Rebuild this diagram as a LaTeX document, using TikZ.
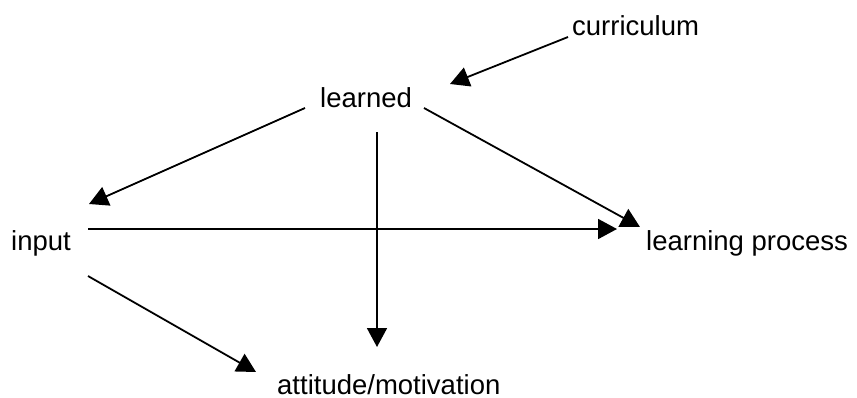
\documentclass[tikz,border=0pt]{standalone}
\usepackage{fontspec}
\setmainfont{Liberation Sans}
\usetikzlibrary{arrows.meta}
\begin{document}
\begin{tikzpicture}[x=1pt,y=-1pt,
  lbl/.style={anchor=base west,inner sep=0pt,font=\fontsize{27.5}{30}\selectfont},
  conn/.style={line width=1.8pt,-{Triangle[length=19pt,width=20pt]}}]
\useasboundingbox (0,0) rectangle (857,397);
\node[lbl] (curriculum) at (572,35) {curriculum};
\node[lbl] (learned) at (320,107) {learned};
\node[lbl] (input) at (11,250) {input};
\node[lbl] (lp) at (646,250) {learning process};
\node[lbl] (att) at (277,394) {attitude/motivation};
\coordinate (c1) at (568,37);
\coordinate (c2) at (450,84);
\coordinate (l1) at (305,108);
\coordinate (l2) at (89,204);
\coordinate (l3) at (377,132);
\coordinate (l4) at (377,347);
\coordinate (l5) at (424,108);
\coordinate (l6) at (640,227);
\coordinate (i1) at (88,229);
\coordinate (i2) at (617,229);
\coordinate (i3) at (88,276);
\coordinate (i4) at (256,372);
\draw[conn] (c1) -- (c2);
\draw[conn] (l1) -- (l2);
\draw[conn] (l3) -- (l4);
\draw[conn] (l5) -- (l6);
\draw[conn] (i1) -- (i2);
\draw[conn] (i3) -- (i4);
\end{tikzpicture}
\end{document}
